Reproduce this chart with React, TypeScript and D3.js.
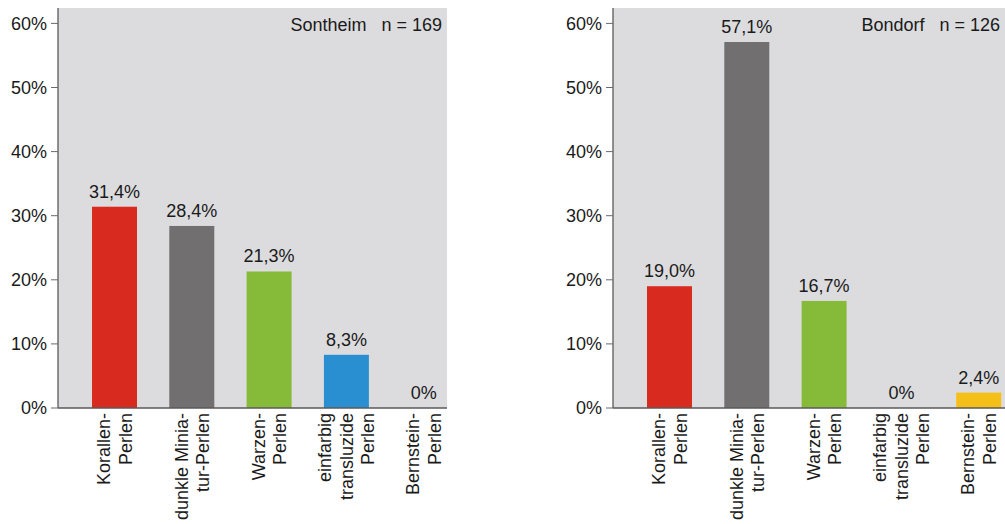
import React from "react";
import * as d3 from "d3";

const categories = ["Korallen", "Miniatur", "Warzen", "Transluzid", "Bernstein"];
const categoryLabels: string[][] = [
  ["Korallen-", "Perlen"],
  ["dunkle Minia-", "tur-Perlen"],
  ["Warzen-", "Perlen"],
  ["einfarbig", "transluzide", "Perlen"],
  ["Bernstein-", "Perlen"],
];
const colors = ["#d92a1f", "#716f70", "#86bb3a", "#2a8fd1", "#f4bf18"];
const sontheimValues = [31.4, 28.4, 21.3, 8.3, 0];
const bondorfValues = [19.0, 57.1, 16.7, 0, 2.4];
const yTicks = [0, 10, 20, 30, 40, 50, 60];
const panels = [
  { name: "Sontheim", n: 169, values: sontheimValues },
  { name: "Bondorf", n: 126, values: bondorfValues },
];

const locale = d3.formatLocale({ decimal: ",", thousands: ".", grouping: [3], currency: ["", "€"] });
const fmt1 = locale.format(".1f");
const fmtVal = (v: number) => (v === 0 ? "0%" : fmt1(v) + "%");

const FONT = "'Liberation Sans', Arial, Helvetica, sans-serif";

function Panel({ x0, width, name, n, values }: { x0: number; width: number; name: string; n: number; values: number[] }) {
  const top = 8;
  const bottom = 408;
  const y = d3.scaleLinear().domain([0, 60]).range([bottom, 23.4]);
  const x = d3.scaleBand<string>().domain(categories).range([34, 388.2]).paddingInner(0.418).paddingOuter(0);
  const bw = x.bandwidth();
  return (
    <g transform={`translate(${x0},0)`} fontFamily={FONT}>
      <rect x={0} y={top} width={width} height={bottom - top} fill="#dcdcde" />
      {values.map((v, i) => (
        <rect key={"b" + i} x={x(categories[i])} y={y(v)} width={bw} height={bottom - y(v)} fill={colors[i]} />
      ))}
      {values.map((v, i) => (
        <text key={"v" + i} x={(x(categories[i]) as number) + bw / 2} y={y(v) - 9} textAnchor="middle" fontSize={18} fill="#1a1a1a">
          {fmtVal(v)}
        </text>
      ))}
      <line x1={0} x2={0} y1={top} y2={bottom} stroke="#5a5a5a" strokeWidth={1.3} />
      <line x1={0} x2={width} y1={bottom} y2={bottom} stroke="#5a5a5a" strokeWidth={1.3} />
      {yTicks.map((t) => (
        <g key={"t" + t} transform={`translate(0,${y(t)})`}>
          <line x1={-7} x2={0} stroke="#6a6a6a" strokeWidth={1} />
          <text x={-11} dy="0.36em" textAnchor="end" fontSize={18} fill="#1a1a1a">
            {t + "%"}
          </text>
        </g>
      ))}
      <text x={width - 5} y={31} textAnchor="end" fontSize={18} fill="#1a1a1a" style={{ whiteSpace: "pre" }}>
        {`${name}   n = ${n}`}
      </text>
      {categoryLabels.map((lines, i) => {
        const c = (x(categories[i]) as number) + bw / 2;
        return lines.map((ln, j) => {
          const cx = c + (j - (lines.length - 1) / 2) * 21.5;
          return (
            <text
              key={"l" + i + "_" + j}
              transform={`translate(${cx},413) rotate(-90)`}
              dy="0.36em"
              textAnchor="end"
              fontSize={18}
              fill="#1a1a1a"
            >
              {ln}
            </text>
          );
        });
      })}
    </g>
  );
}

export default function App() {
  return (
    <svg width={1005} height={524} style={{ position: "absolute", left: 0, top: 0, background: "#ffffff" }}>
      <rect width={1005} height={524} fill="#ffffff" />
      <Panel x0={58} width={389} name={panels[0].name} n={panels[0].n} values={panels[0].values} />
      <Panel x0={613} width={392} name={panels[1].name} n={panels[1].n} values={panels[1].values} />
    </svg>
  );
}
